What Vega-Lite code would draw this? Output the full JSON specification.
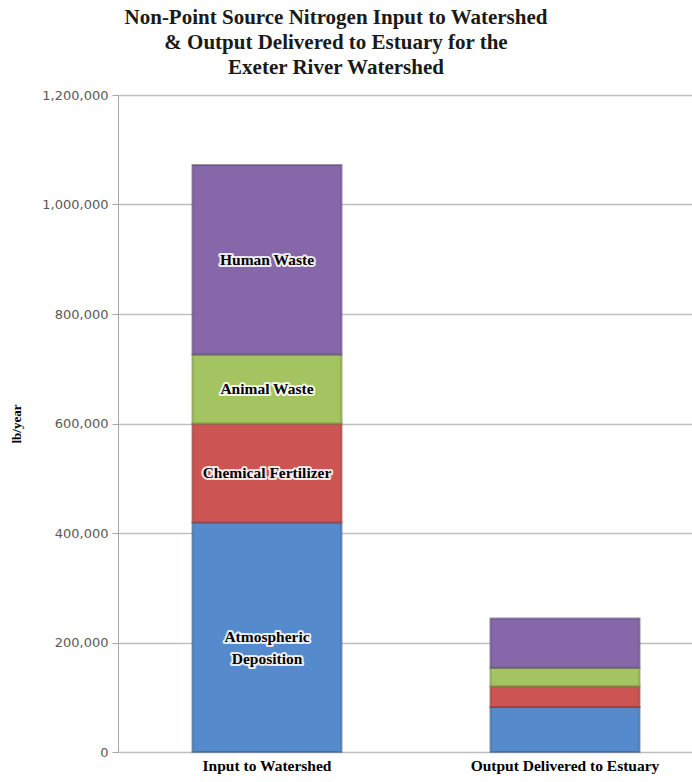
{
  "$schema": "https://vega.github.io/schema/vega-lite/v6.json",
  "autosize": "none",
  "padding": {"left": 118, "top": 95, "right": 0, "bottom": 30},
  "width": 596,
  "height": 657,
  "background": "white",
  "title": {
    "text": ["Non-Point Source Nitrogen Input to Watershed", "& Output Delivered to Estuary for the", "Exeter River Watershed"],
    "font": "Liberation Serif",
    "fontSize": 21,
    "fontWeight": "bold",
    "lineHeight": 25,
    "color": "#1a1a1a",
    "anchor": "middle",
    "orient": "top",
    "dx": -80,
    "offset": 11
  },
  "data": {
    "values": [
      {"flow": "Input to Watershed", "source": "Atmospheric Deposition", "order": 1, "value": 419000, "label": "Atmospheric|Deposition"},
      {"flow": "Input to Watershed", "source": "Chemical Fertilizer", "order": 2, "value": 181000, "label": "Chemical Fertilizer"},
      {"flow": "Input to Watershed", "source": "Animal Waste", "order": 3, "value": 126000, "label": "Animal Waste"},
      {"flow": "Input to Watershed", "source": "Human Waste", "order": 4, "value": 346000, "label": "Human Waste"},
      {"flow": "Output Delivered to Estuary", "source": "Atmospheric Deposition", "order": 1, "value": 82000, "label": ""},
      {"flow": "Output Delivered to Estuary", "source": "Chemical Fertilizer", "order": 2, "value": 38000, "label": ""},
      {"flow": "Output Delivered to Estuary", "source": "Animal Waste", "order": 3, "value": 34000, "label": ""},
      {"flow": "Output Delivered to Estuary", "source": "Human Waste", "order": 4, "value": 90000, "label": ""}
    ]
  },
  "encoding": {
    "x": {
      "field": "flow",
      "type": "nominal",
      "sort": null,
      "scale": {"paddingInner": 0.5, "paddingOuter": 0.25},
      "axis": {
        "title": null,
        "labelAngle": 0,
        "labelFont": "Liberation Serif",
        "labelFontWeight": "bold",
        "labelFontSize": 15.5,
        "labelColor": "#000000",
        "labelPadding": 6,
        "labelLimit": 400,
        "ticks": false,
        "domain": false
      }
    }
  },
  "layer": [
    {
      "mark": {"type": "bar", "strokeWidth": 2, "strokeOpacity": 0.6},
      "encoding": {
        "y": {
          "field": "value",
          "type": "quantitative",
          "aggregate": "sum",
          "stack": "zero",
          "scale": {"domain": [0, 1200000]},
          "axis": {
            "title": "lb/year",
            "titleFont": "Liberation Serif",
            "titleFontWeight": "bold",
            "titleFontSize": 13,
            "titleColor": "#000000",
            "titlePadding": 18,
            "values": [0, 200000, 400000, 600000, 800000, 1000000, 1200000],
            "format": ",d",
            "labelFont": "DejaVu Sans",
            "labelFontSize": 13,
            "labelColor": "#595959",
            "labelPadding": 4,
            "tickSize": 6,
            "tickColor": "#a6a6a6",
            "domainColor": "#a6a6a6",
            "grid": true,
            "gridColor": "#bfbfbf",
            "gridWidth": 1.5
          }
        },
        "color": {
          "field": "source",
          "type": "nominal",
          "scale": {
            "domain": ["Atmospheric Deposition", "Chemical Fertilizer", "Animal Waste", "Human Waste"],
            "range": ["#558bcc", "#cc5553", "#a3c460", "#8668aa"]
          },
          "legend": null
        },
        "stroke": {
          "field": "source",
          "type": "nominal",
          "scale": {
            "domain": ["Atmospheric Deposition", "Chemical Fertilizer", "Animal Waste", "Human Waste"],
            "range": ["#385d8a", "#8c3836", "#71893f", "#5c4776"]
          },
          "legend": null
        },
        "order": {"field": "order", "type": "quantitative"}
      }
    },
    {
      "transform": [
        {"filter": "datum.label != ''"},
        {"stack": "value", "groupby": ["flow"], "sort": [{"field": "order"}], "as": ["y0", "y1"]},
        {"calculate": "(datum.y0 + datum.y1) / 2", "as": "mid"},
        {"calculate": "split(datum.label, '|')", "as": "lines"}
      ],
      "encoding": {
        "y": {"field": "mid", "type": "quantitative", "stack": null},
        "text": {"field": "lines"}
      },
      "layer": [
        {
          "mark": {"type": "text", "font": "Liberation Serif", "fontWeight": "bold", "fontSize": 15.5, "lineHeight": 22, "stroke": "white", "strokeWidth": 4, "strokeOpacity": 0.85, "strokeJoin": "round", "color": "white"}
        },
        {
          "mark": {"type": "text", "font": "Liberation Serif", "fontWeight": "bold", "fontSize": 15.5, "lineHeight": 22, "color": "#000000"}
        }
      ]
    }
  ]
}
